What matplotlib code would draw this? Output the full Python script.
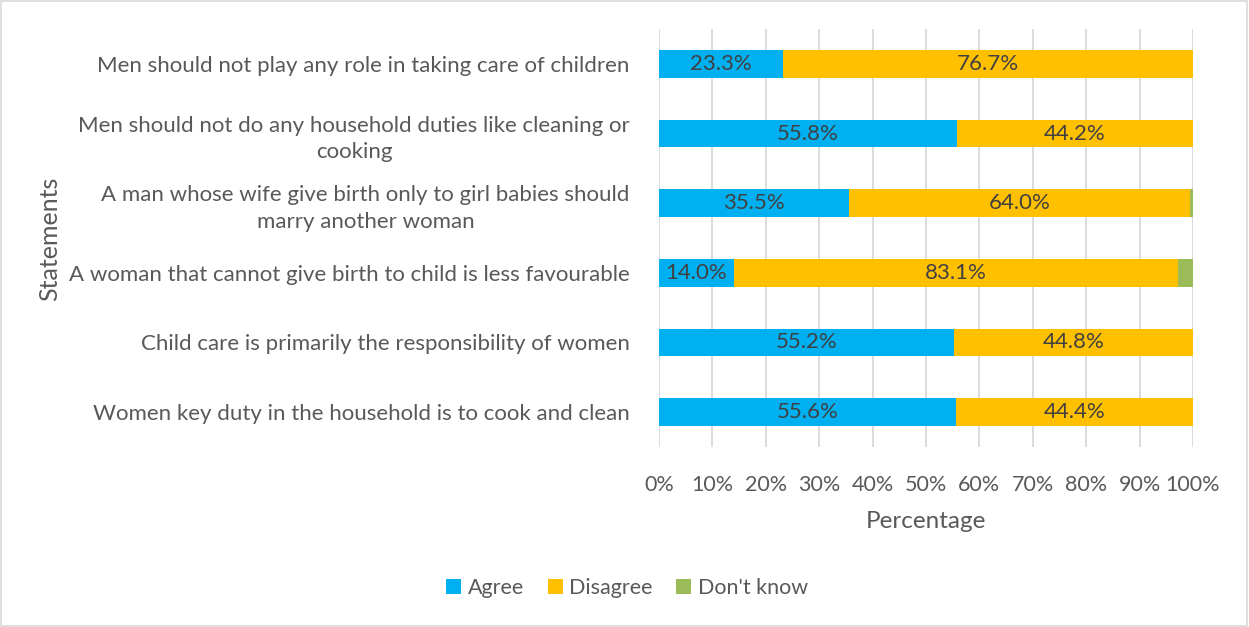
import matplotlib.pyplot as plt
from matplotlib.patches import Rectangle
import numpy as np

statements = [
    'Men should not play any role in taking care of children',
    'Men should not do any household duties like cleaning or\ncooking',
    'A man whose wife give birth only to girl babies should\nmarry another woman',
    'A woman that cannot give birth to child is less favourable',
    'Child care is primarily the responsibility of women',
    'Women key duty in the household is to cook and clean',
]
agree = [23.3, 55.8, 35.5, 14.0, 55.2, 55.6]
disagree = [76.7, 44.2, 64.0, 83.1, 44.8, 44.4]
dont_know = [0.0, 0.0, 0.5, 2.9, 0.0, 0.0]

plt.rcParams['font.family'] = ['Lato', 'DejaVu Sans']
text_col = '#595959'

fig = plt.figure(figsize=(12.49, 6.27), dpi=100)
ax = fig.add_axes([0.5276, 0.2871, 0.4276, 0.6666])

y = np.arange(len(statements))
h = 0.4
ax.barh(y, agree, height=h, color='#00b0f0', label='Agree', zorder=3)
ax.barh(y, disagree, left=agree, height=h, color='#ffc000', label='Disagree', zorder=3)
left2 = np.array(agree) + np.array(disagree)
ax.barh(y, dont_know, left=left2, height=h, color='#9bbb59', label="Don't know", zorder=3)

# value labels centred in the agree / disagree segments
for i in range(len(statements)):
    ax.text(agree[i] / 2, y[i], '%.1f%%' % agree[i], ha='center', va='center',
            fontsize=16, color='#404040', zorder=4)
    ax.text(agree[i] + disagree[i] / 2, y[i], '%.1f%%' % disagree[i], ha='center',
            va='center', fontsize=16, color='#404040', zorder=4)

ax.set_xlim(0, 100)
ax.set_ylim(len(statements) - 0.5, -0.5)
ax.set_xticks(np.arange(0, 101, 10))
ax.set_xticklabels(['%d%%' % v for v in range(0, 101, 10)], fontsize=15.5)
ax.set_yticks(y)
ax.set_yticklabels(statements, multialignment='center', fontsize=16, linespacing=1.4)
ax.tick_params(axis='both', length=0, labelcolor=text_col)
ax.tick_params(axis='x', pad=20)
ax.tick_params(axis='y', pad=21)
ax.grid(axis='x', color='#d9d9d9', linewidth=1.3, zorder=0)
for s in ax.spines.values():
    s.set_visible(False)

ax.set_xlabel('Percentage', fontsize=17.5, color=text_col, labelpad=12)
fig.text(0.04, 0.619, 'Statements', rotation=90, fontsize=18, color=text_col,
         ha='center', va='center')

fig.legend(loc='center', bbox_to_anchor=(0.502, 0.062), ncol=3, frameon=False,
           fontsize=15.5, labelcolor=text_col, handlelength=0.7, handleheight=0.7,
           handletextpad=0.3, columnspacing=1.1)

fig.patches.append(Rectangle((0.001, 0.002), 0.997, 0.996, transform=fig.transFigure,
                             fill=False, edgecolor='#d9d9d9', linewidth=1.2))

fig.savefig('out.png', dpi=100, facecolor='white')
